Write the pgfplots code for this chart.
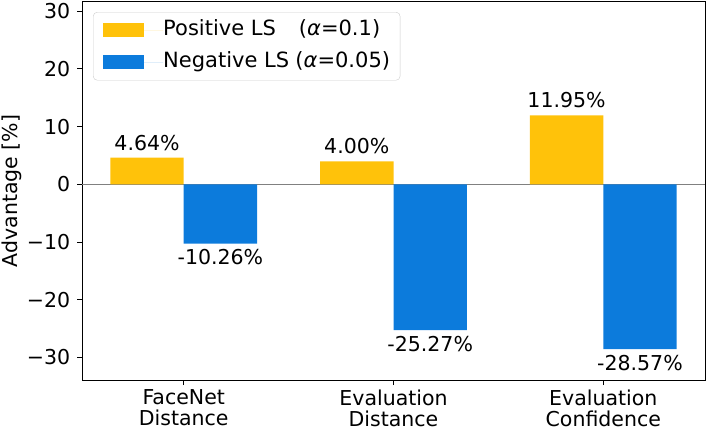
\documentclass[border=0pt]{standalone}
\usepackage{fontspec}
\setmainfont{DejaVu Sans}
\usepackage{pgfplots}
\pgfplotsset{compat=1.18}
\definecolor{cyel}{RGB}{255,194,10}
\definecolor{cblue}{RGB}{12,123,220}
\begin{document}
\fontsize{20bp}{24bp}\selectfont
\begin{tikzpicture}[x=1bp,y=1bp]
\path[use as bounding box] (0,0) rectangle (708,430);
\begin{axis}[
  at={(82bp,50bp)}, anchor=south west,
  scale only axis, width=623bp, height=378bp,
  xmin=-0.485, xmax=2.485, ymin=-33.9, ymax=31.6,
  xtick={0,1,2},
  xticklabels={FaceNet\\Distance, Evaluation\\Distance, Evaluation\\Confidence},
  xticklabel style={align=center, font=\fontsize{20.5bp}{21bp}\selectfont, yshift=2bp},
  ytick={-30,-20,-10,0,10,20,30},
  yticklabels={−30,−20,−10,0,10,20,30},
  yticklabel style={font=\fontsize{20.5bp}{24bp}\selectfont},
  tick align=outside, xtick pos=left, ytick pos=left,
  major tick length=5bp,
  axis line style={line width=1bp},
  every tick/.style={black, line width=1bp},
  ylabel={Advantage [\%]},
  ylabel style={at={(axis description cs:-0.1124,0.5)}, anchor=center, font=\fontsize{20.5bp}{24bp}\selectfont},
  ybar, bar width=0.35,
  point meta=explicit symbolic,
  nodes near coords,
  every node near coord/.append style={font=\fontsize{20.5bp}{24bp}\selectfont, inner sep=2bp, black},
  legend style={at={(axis description cs:0.0177,0.9735)}, anchor=north west,
    draw=black!20, rounded corners=4bp, font=\fontsize{21bp}{24bp}\selectfont,
    inner xsep=10bp, inner ysep=5bp, row sep=6bp,
    nodes={text height=15bp, text depth=5bp, inner ysep=3bp, inner xsep=0bp}},
  legend cell align=left,
]
\addplot[ybar=0pt, sharp plot, draw=gray, line width=1.2bp, nodes near coords=, forget plot] coordinates {(-0.485,0) (2.485,0)};
\addplot[fill=cyel, draw=none, bar shift=-0.175,
  every node near coord/.append style={anchor=south, yshift=5bp},
  legend image code/.code={\fill[cyel, sharp corners] (0bp,-7bp) rectangle (41bp,7bp); \path (41bp,0bp) -- (60bp,0bp);}]
  coordinates {(0,4.64) [4.64\%] (1,4.00) [4.00\%] (2,11.95) [11.95\%]};
\addlegendentry{Positive LS\hspace{1.1em}({\itshape α}=0.1)}
\addplot[fill=cblue, draw=none, bar shift=0.175,
  every node near coord/.append style={anchor=north, yshift=-4bp},
  legend image code/.code={\fill[cblue, sharp corners] (0bp,-7bp) rectangle (41bp,7bp); \path (41bp,0bp) -- (60bp,0bp);}]
  coordinates {(0,-10.26) [-10.26\%] (1,-25.27) [-25.27\%] (2,-28.57) [-28.57\%]};
\addlegendentry{Negative LS\hspace{0.3em}({\itshape α}=0.05)}
\end{axis}
\end{tikzpicture}
\end{document}
